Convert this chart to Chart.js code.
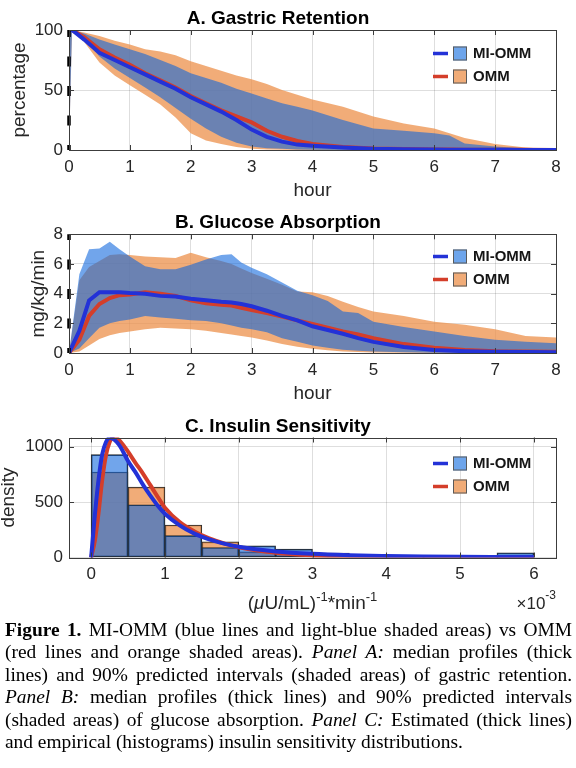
<!DOCTYPE html>
<html><head><meta charset="utf-8">
<script src="https://cdn.jsdelivr.net/npm/chart.js@4"></script>
<style>
html,body{margin:0;padding:0;background:#fff;}
#wrap{position:relative;width:576px;height:768px;overflow:hidden;background:#fff;}
.box{position:absolute;left:0;width:576px;}
#cap{position:absolute;left:5px;top:619px;width:567px;font-family:'Liberation Serif','Times New Roman',serif;font-size:19.4px;line-height:22.4px;color:#000;}
#cap div{text-align:justify;text-align-last:justify;white-space:nowrap;}
#cap div.last{text-align:left;text-align-last:left;}
</style></head>
<body>
<div id="wrap">
  <div class="box" style="top:0;height:205px;"><canvas id="cA"></canvas></div>
  <div class="box" style="top:203px;height:205px;"><canvas id="cB"></canvas></div>
  <div class="box" style="top:410px;height:210px;"><canvas id="cC"></canvas></div>
  <div id="cap">
    <div><b>Figure 1.</b> MI-OMM (blue lines and light-blue shaded areas) vs OMM</div>
    <div>(red lines and orange shaded areas). <i>Panel A:</i> median profiles (thick</div>
    <div>lines) and 90% predicted intervals (shaded areas) of gastric retention.</div>
    <div><i>Panel B:</i> median profiles (thick lines) and 90% predicted intervals</div>
    <div>(shaded areas) of glucose absorption. <i>Panel C:</i> Estimated (thick lines)</div>
    <div class="last">and empirical (histograms) insulin sensitivity distributions.</div>
  </div>
</div>
<script>
// ---------- Panel A: gastric retention (%) ----------
const tA = [0, 0.05, 0.25, 0.5, 0.75, 1, 1.25, 1.5, 1.75, 2, 2.25, 2.5, 2.75, 3, 3.25, 3.5, 3.75, 4, 4.5, 5, 5.5, 6, 6.25, 6.5, 7, 7.5, 8];
const medBlueA = [100, 100, 92, 81, 75, 69, 63, 57, 51, 44, 38, 32, 25, 17, 11, 7, 4.5, 3.5, 2, 1, 0.6, 0.4, 0.3, 0.3, 0.2, 0.1, 0.1];
const medRedA  = [100, 100, 94, 84, 77, 71, 64, 58, 52, 45, 39, 33, 28, 23, 16, 11, 7.5, 5, 2.5, 1.2, 0.8, 0.5, 0.4, 0.3, 0.2, 0.2, 0.1];
const blueUpA  = [100, 100, 97, 92, 88, 84, 80, 75, 70, 64, 60, 56, 51, 47, 43, 39, 36, 33, 25, 18, 16, 14, 12, 5.5, 3, 1.5, 0.5];
const blueLoA  = [0, 100, 92, 78, 68, 60, 52, 44, 35, 26, 18, 11, 6, 3, 1.5, 1, 0.5, 0.3, 0.1, 0, 0, 0, 0, 0, 0, 0, 0];
const orangeUpA = [100, 100, 98, 95, 91, 88, 84, 82, 79, 74, 70, 66, 62, 59, 55, 50, 46, 42, 36, 28, 22, 18, 14, 10, 5, 2, 0.5];
const orangeLoA = [0, 100, 90, 73, 62, 54, 46, 38, 27, 14, 8, 5, 2.5, 1, 0.5, 0.2, 0, 0, 0, 0, 0, 0, 0, 0, 0, 0, 0];
const yTicksA = [0, 50, 100];

// ---------- Panel B: glucose absorption (mg/kg/min) ----------
const tB = [0, 0.17, 0.33, 0.5, 0.67, 0.83, 1, 1.25, 1.5, 1.75, 2, 2.25, 2.5, 2.67, 2.83, 3, 3.25, 3.5, 3.75, 4, 4.25, 4.5, 4.75, 5, 5.5, 6, 6.5, 7, 7.5, 8];
const medBlueB = [0, 1.5, 3.55, 4.1, 4.1, 4.1, 4.05, 4.0, 3.85, 3.8, 3.65, 3.55, 3.45, 3.4, 3.3, 3.15, 2.85, 2.5, 2.2, 1.8, 1.55, 1.3, 1.0, 0.75, 0.4, 0.2, 0.12, 0.08, 0.06, 0.05];
const medRedB  = [0, 0.9, 2.5, 3.3, 3.7, 3.9, 3.95, 4.1, 4.0, 3.85, 3.55, 3.35, 3.25, 3.2, 3.05, 2.9, 2.7, 2.45, 2.2, 1.95, 1.7, 1.45, 1.25, 1.0, 0.6, 0.35, 0.2, 0.12, 0.1, 0.08];
const blueUpB  = [0, 5.3, 7.0, 7.05, 7.5, 7.0, 6.5, 5.85, 5.65, 5.65, 5.95, 6.3, 6.6, 6.65, 6.1, 5.75, 5.3, 4.75, 4.2, 3.9, 3.5, 2.8, 2.7, 2.1, 1.75, 1.45, 1.15, 0.9, 0.75, 0.65];
const blueLoB  = [0, 0.3, 1.0, 1.7, 2.0, 2.15, 2.25, 2.5, 2.4, 2.3, 2.2, 2.15, 2.0, 1.85, 1.7, 1.6, 1.4, 1.0, 0.75, 0.5, 0.35, 0.22, 0.15, 0.1, 0.05, 0.02, 0.01, 0, 0, 0];
const orangeUpB = [0, 4.9, 5.8, 6.2, 6.6, 6.65, 6.6, 6.5, 6.45, 6.4, 6.75, 6.45, 6.2, 6.0, 5.7, 5.4, 5.0, 4.6, 4.15, 4.1, 3.85, 3.45, 3.1, 2.8, 2.5, 2.1, 1.9, 1.6, 1.15, 1.05];
const orangeLoB = [0, 0.1, 0.5, 0.95, 1.2, 1.35, 1.45, 1.6, 1.7, 1.65, 1.6, 1.5, 1.35, 1.25, 1.15, 1.05, 0.85, 0.6, 0.42, 0.28, 0.18, 0.1, 0.06, 0.04, 0.02, 0, 0, 0, 0, 0];
const yTicksB = [0, 2, 4, 6, 8];
const xTicksAB = [0, 1, 2, 3, 4, 5, 6, 7, 8];

// ---------- Panel C: insulin sensitivity (x 1e-3) ----------
const binCenters = [0.25, 0.75, 1.25, 1.75, 2.25, 2.75, 3.25, 3.75, 4.25, 4.75, 5.25, 5.75];
const histBlue   = [928, 476, 198, 90, 105, 75, 41, 14, 8, 6, 5, 42];
const histOrange = [772, 635, 293, 141, 51, 36, 22, 10, 5, 3, 2, 1];
const xsC = [0, 0.05, 0.1, 0.15, 0.2, 0.25, 0.3, 0.35, 0.4, 0.5, 0.6, 0.7, 0.8, 0.9, 1.0, 1.2, 1.4, 1.6, 1.8, 2.0, 2.5, 3.0, 3.5, 4.0, 4.5, 5.0, 5.5, 6.0];
const densBlue = [0, 380, 700, 930, 1040, 1078, 1070, 1040, 995, 870, 770, 660, 560, 470, 395, 290, 215, 163, 125, 97, 55, 33, 21, 14, 9, 6, 4.5, 3.5];
const densRed  = [0, 150, 400, 700, 920, 1040, 1082, 1075, 1045, 955, 855, 760, 655, 550, 450, 320, 235, 172, 127, 92, 42, 19, 9, 4.5, 2.3, 1.2, 0.7, 0.4];
const xTicksC = [0, 1, 2, 3, 4, 5, 6];
const yTicksC = [0, 500, 1000];

// ---------- styles ----------
const FONT = "'Liberation Sans', Arial, Helvetica, sans-serif";
const TXT = '#262626';
const BLUE_LINE = 'rgb(35,50,215)';
const RED_LINE = 'rgb(212,62,42)';
const BLUE_FILL = 'rgba(10,100,220,0.58)';
const ORANGE_FILL = 'rgba(236,144,75,0.75)';
const BLUE_PATCH = 'rgb(110,165,235)';
const ORANGE_PATCH = 'rgb(241,172,120)';
const GRID = 'rgba(0,0,0,0.13)';

const pts = (xs, ys) => xs.map((x, i) => ({x: x, y: ys[i]}));

const boxPlugin = {
  id: 'mbox',
  afterDatasetsDraw(chart) {
    const {ctx, chartArea: a, scales} = chart;
    ctx.save();
    ctx.strokeStyle = '#3c3c3c';
    ctx.lineWidth = 1;
    ctx.strokeRect(Math.round(a.left) + 0.5, Math.round(a.top) + 0.5, Math.round(a.right - a.left), Math.round(a.bottom - a.top));
    const tl = 5;
    ctx.beginPath();
    scales.x.ticks.forEach(t => {
      const px = Math.round(scales.x.getPixelForValue(t.value)) + 0.5;
      ctx.moveTo(px, a.bottom); ctx.lineTo(px, a.bottom - tl);
      ctx.moveTo(px, a.top); ctx.lineTo(px, a.top + tl);
    });
    scales.y.ticks.forEach(t => {
      const py = Math.round(scales.y.getPixelForValue(t.value)) + 0.5;
      ctx.moveTo(a.left, py); ctx.lineTo(a.left + tl, py);
      ctx.moveTo(a.right, py); ctx.lineTo(a.right - tl, py);
    });
    ctx.stroke();
    ctx.restore();
  }
};

const legendPlugin = {
  id: 'mlegend',
  afterDraw(chart, args, opts) {
    const ctx = chart.ctx;
    ctx.save();
    opts.items.forEach((it, i) => {
      const y = opts.y[i];
      const x0 = opts.x0;
      ctx.strokeStyle = it.line; ctx.lineWidth = 3.5; ctx.lineCap = 'butt';
      ctx.beginPath(); ctx.moveTo(x0, y); ctx.lineTo(x0 + 15, y); ctx.stroke();
      ctx.fillStyle = it.patch; ctx.fillRect(x0 + 20, y - 7, 14, 14);
      ctx.strokeStyle = '#5a5a5a'; ctx.lineWidth = 1; ctx.strokeRect(x0 + 20.5, y - 6.5, 13, 13);
      ctx.fillStyle = '#151515'; ctx.font = 'bold 15px ' + FONT; ctx.textBaseline = 'middle'; ctx.textAlign = 'left';
      ctx.fillText(it.label, x0 + 40, y + 0.5);
    });
    ctx.restore();
  }
};

const legendOpts = {
  x0: 433, y: [53.5, 76.5],
  items: [
    {label: 'MI-OMM', line: BLUE_LINE, patch: BLUE_PATCH},
    {label: 'OMM', line: RED_LINE, patch: ORANGE_PATCH}
  ]
};

function xScale(min, max, ticks, h, title) {
  return {
    type: 'linear', min: min, max: max, offset: false,
    afterBuildTicks: s => { s.ticks = ticks.map(v => ({value: v})); },
    afterFit: s => { s.height = h; },
    grid: {color: GRID, drawTicks: false, offset: false},
    border: {display: false},
    ticks: {color: TXT, font: {family: FONT, size: 17}, padding: 7, maxRotation: 0, autoSkip: false, callback: v => String(v)},
    title: title ? {display: true, text: title, color: TXT, font: {family: FONT, size: 19}, padding: {top: 0, bottom: 2.6}} : {display: false}
  };
}
function yScale(min, max, ticks, title, tpad) {
  return {
    type: 'linear', min: min, max: max,
    afterBuildTicks: s => { s.ticks = ticks.map(v => ({value: v})); },
    afterFit: s => { s.width = 69; },
    grid: {color: GRID, drawTicks: false},
    border: {display: false},
    ticks: {color: TXT, font: {family: FONT, size: 17}, padding: 6, autoSkip: false, callback: v => String(v)},
    title: {display: true, text: title, color: TXT, font: {family: FONT, size: 19}, padding: {top: tpad, bottom: 0}}
  };
}
function titleOpts(text, top, bottom) {
  return {display: true, text: text, color: '#000', font: {family: FONT, size: 19, weight: 'bold'}, padding: {top: top, bottom: bottom}};
}

function bandChart(id, t, medB, medR, bUp, bLo, oUp, oLo, ymax, yTicks, ttl, ylab, ypad, tpadTop, tpadBot) {
  const line = {pointRadius: 0, fill: false, tension: 0};
  return new Chart(document.getElementById(id), {
    type: 'line',
    data: {datasets: [
      Object.assign({label: 'start', data: [{x: 0, y: 0}, {x: 0, y: ymax}], borderColor: '#000', borderWidth: 3.5, borderDash: [10, 19.5], borderDashOffset: 5, clip: false}, line),
      Object.assign({label: 'MI-OMM', data: pts(t, medB), borderColor: BLUE_LINE, borderWidth: 4}, line),
      Object.assign({label: 'OMM', data: pts(t, medR), borderColor: RED_LINE, borderWidth: 4}, line),
      {label: 'MI-OMM 90% upper', data: pts(t, bUp), pointRadius: 0, borderWidth: 0, fill: '+1', backgroundColor: BLUE_FILL, tension: 0},
      {label: 'MI-OMM 90% lower', data: pts(t, bLo), pointRadius: 0, borderWidth: 0, fill: false, tension: 0},
      {label: 'OMM 90% upper', data: pts(t, oUp), pointRadius: 0, borderWidth: 0, fill: '+1', backgroundColor: ORANGE_FILL, tension: 0},
      {label: 'OMM 90% lower', data: pts(t, oLo), pointRadius: 0, borderWidth: 0, fill: false, tension: 0}
    ]},
    options: {
      responsive: true, maintainAspectRatio: false, animation: false, events: [],
      layout: {padding: {left: 0, right: 20, top: 0, bottom: 0}},
      scales: {
        x: xScale(0, 8, xTicksAB, 55, 'hour'),
        y: yScale(0, ymax, yTicks, ylab, ypad)
      },
      plugins: {
        legend: {display: false}, tooltip: {enabled: false},
        title: titleOpts(ttl, tpadTop, tpadBot),
        mlegend: legendOpts
      }
    },
    plugins: [boxPlugin, legendPlugin]
  });
}

bandChart('cA', tA, medBlueA, medRedA, blueUpA, blueLoA, orangeUpA, orangeLoA, 100, yTicksA,
  'A. Gastric Retention', 'percentage', 8.6, 7, 0.2);
bandChart('cB', tB, medBlueB, medRedB, blueUpB, blueLoB, orangeUpB, orangeLoB, 8, yTicksB,
  'B. Glucose Absorption', 'mg/kg/min', 26.9, 8.8, -0.3);

const cLabelPlugin = {
  id: 'clabel',
  afterDraw(chart) {
    const ctx = chart.ctx, a = chart.chartArea;
    ctx.save();
    ctx.fillStyle = TXT; ctx.textBaseline = 'alphabetic'; ctx.textAlign = 'left';
    const parts = [['(', '19px', 0], ['\u03BC', 'italic 19px', 0], ['U/mL)', '19px', 0], ['-1', '13px', -8], ['*min', '19px', 0], ['-1', '13px', -8]];
    let w = 0;
    parts.forEach(p => { ctx.font = p[1] + ' ' + FONT; w += ctx.measureText(p[0]).width; });
    let x = (a.left + a.right) / 2 - w / 2;
    const base = 199;
    parts.forEach(p => { ctx.font = p[1] + ' ' + FONT; ctx.fillText(p[0], x, base + p[2]); x += ctx.measureText(p[0]).width; });
    ctx.font = '12px ' + FONT;
    const wExp = ctx.measureText('-3').width;
    ctx.fillText('-3', a.right - wExp, 188.5);
    ctx.font = '17px ' + FONT;
    const wMul = ctx.measureText('\u00D710').width;
    ctx.fillText('\u00D710', a.right - wExp - wMul, 199);
    ctx.restore();
  }
};

new Chart(document.getElementById('cC'), {
  type: 'bar',
  data: {datasets: [
    {type: 'line', label: 'MI-OMM', data: pts(xsC, densBlue), borderColor: BLUE_LINE, borderWidth: 4, pointRadius: 0, fill: false, cubicInterpolationMode: 'monotone'},
    {type: 'line', label: 'OMM', data: pts(xsC, densRed), borderColor: RED_LINE, borderWidth: 4, pointRadius: 0, fill: false, cubicInterpolationMode: 'monotone'},
    {type: 'bar', label: 'MI-OMM histogram', data: pts(binCenters, histBlue), backgroundColor: BLUE_FILL, borderColor: '#2a2a2a', borderWidth: 1, borderSkipped: false, barPercentage: 1, categoryPercentage: 1, grouped: false},
    {type: 'bar', label: 'OMM histogram', data: pts(binCenters, histOrange), backgroundColor: ORANGE_FILL, borderColor: '#2a2a2a', borderWidth: 1, borderSkipped: false, barPercentage: 1, categoryPercentage: 1, grouped: false}
  ]},
  options: {
    responsive: true, maintainAspectRatio: false, animation: false, events: [],
    layout: {padding: {left: 0, right: 20, top: 0, bottom: 0}},
    scales: {
      x: xScale(-0.3, 6.3, xTicksC, 62.5, null),
      y: yScale(0, 1083, yTicksC, 'density', -3.1)
    },
    plugins: {
      legend: {display: false}, tooltip: {enabled: false},
      title: titleOpts('C. Insulin Sensitivity', 5.5, -0.8),
      mlegend: legendOpts
    }
  },
  plugins: [boxPlugin, legendPlugin, cLabelPlugin]
});
</script>
</body></html>
